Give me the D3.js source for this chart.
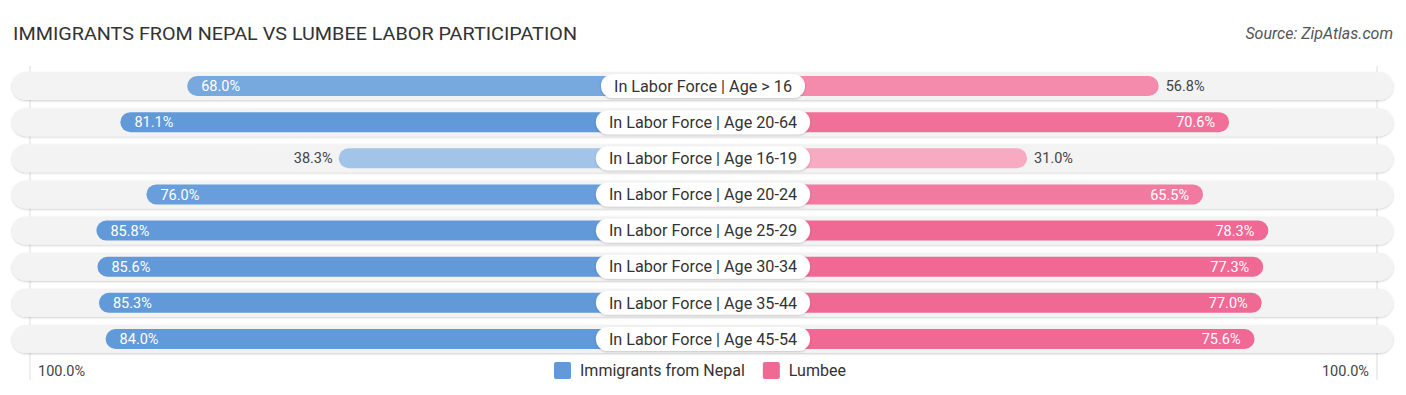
<!DOCTYPE html>
<html>
<head>
<meta charset="utf-8">
<script src="https://cdn.jsdelivr.net/npm/d3@7"></script>
<style>
  body { margin: 0; background: #fff; }
  svg { font-family: Roboto, "Open Sans", sans-serif; }
</style>
</head>
<body>
<div id="chart"></div>
<script>
// data
var categories = [
  "In Labor Force | Age > 16",
  "In Labor Force | Age 20-64",
  "In Labor Force | Age 16-19",
  "In Labor Force | Age 20-24",
  "In Labor Force | Age 25-29",
  "In Labor Force | Age 30-34",
  "In Labor Force | Age 35-44",
  "In Labor Force | Age 45-54"];
var nepal = [68.0, 81.1, 38.3, 76.0, 85.8, 85.6, 85.3, 84.0];
var lumbee = [56.8, 70.6, 31.0, 65.5, 78.3, 77.3, 77.0, 75.6];
var seriesNames = ["Immigrants from Nepal", "Lumbee"];
var axisLabel = "100.0%";

var W = 1406, H = 395;
var cx = 703;

var svg = d3.select("#chart").append("svg")
  .attr("width", W).attr("height", H);

var defs = svg.append("defs");
var f = defs.append("filter").attr("id", "shadow")
  .attr("x", "-5%").attr("y", "-30%").attr("width", "110%").attr("height", "160%");
f.append("feDropShadow").attr("dx", 0).attr("dy", 1).attr("stdDeviation", 1.2)
  .attr("flood-color", "#000").attr("flood-opacity", 0.2);

// scales
var y = d3.scalePoint().domain(categories).range([86, 339]);
var xLeft = d3.scaleLinear().domain([0, 100]).range([534, 24]);
var xRight = d3.scaleLinear().domain([0, 100]).range([869, 1379]);

var blue = d3.scaleLinear().domain([30, 60, 80]).range(["#aecbec", "#85b2e2", "#6199d9"]).clamp(true);
var pink = d3.scaleLinear().domain([30, 55, 75]).range(["#f8abc3", "#f48eae", "#f06894"]).clamp(true);

// title
svg.append("text").attr("x", 13).attr("y", 40)
  .attr("font-size", 19).attr("fill", "#333")
  .attr("textLength", 564).attr("lengthAdjust", "spacingAndGlyphs")
  .text("IMMIGRANTS FROM NEPAL VS LUMBEE LABOR PARTICIPATION");
svg.append("text").attr("x", 1393).attr("y", 39)
  .attr("text-anchor", "end").attr("font-size", 16).attr("font-style", "italic").attr("fill", "#555")
  .text("Source: ZipAtlas.com");

// guide lines at 100%
svg.selectAll("line.guide").data([xLeft(100) + 6, xRight(100) - 2]).enter().append("line")
  .attr("x1", function(d) { return d; }).attr("x2", function(d) { return d; })
  .attr("y1", 66).attr("y2", 380)
  .attr("stroke", "#ddd").attr("stroke-width", 1);

var rows = svg.selectAll("g.row").data(categories).enter().append("g")
  .attr("transform", function(d) { return "translate(0," + y(d) + ")"; });

// track
rows.append("rect")
  .attr("x", 12).attr("y", -14).attr("width", 1381).attr("height", 28).attr("rx", 14)
  .attr("fill", "#f3f3f3").attr("filter", "url(#shadow)");

// nepal bars
rows.append("rect")
  .attr("x", function(d, i) { return xLeft(nepal[i]); })
  .attr("y", -10).attr("height", 20).attr("rx", 10)
  .attr("width", function(d, i) { return cx - xLeft(nepal[i]); })
  .attr("fill", function(d, i) { return blue(nepal[i]); });

// lumbee bars
rows.append("rect")
  .attr("x", cx - 10).attr("y", -10).attr("height", 20).attr("rx", 10)
  .attr("width", function(d, i) { return xRight(lumbee[i]) - cx + 10; })
  .attr("fill", function(d, i) { return pink(lumbee[i]); });

// value labels
rows.append("text")
  .attr("x", function(d, i) { return nepal[i] > 60 ? xLeft(nepal[i]) + 14 : xLeft(nepal[i]) - 6; })
  .attr("text-anchor", function(d, i) { return nepal[i] > 60 ? "start" : "end"; })
  .attr("dy", "0.35em").attr("font-size", 14.5)
  .attr("fill", function(d, i) { return nepal[i] > 60 ? "#fff" : "#444"; })
  .text(function(d, i) { return nepal[i].toFixed(1) + "%"; });

rows.append("text")
  .attr("x", function(d, i) { return lumbee[i] > 60 ? xRight(lumbee[i]) - 14 : xRight(lumbee[i]) + 7; })
  .attr("text-anchor", function(d, i) { return lumbee[i] > 60 ? "end" : "start"; })
  .attr("dy", "0.35em").attr("font-size", 14.5)
  .attr("fill", function(d, i) { return lumbee[i] > 60 ? "#fff" : "#444"; })
  .text(function(d, i) { return lumbee[i].toFixed(1) + "%"; });

// category pills
rows.each(function(d) {
  var g = d3.select(this);
  var pill = g.append("rect").attr("y", -12).attr("height", 24).attr("rx", 12)
    .attr("fill", "#fff").attr("filter", "url(#shadow)");
  var t = g.append("text").attr("x", cx).attr("dy", "0.35em")
    .attr("text-anchor", "middle").attr("font-size", 16.2).attr("fill", "#333").text(d);
  var w = t.node().getComputedTextLength() + 26;
  pill.attr("x", cx - w / 2).attr("width", w);
});

// axis end labels
svg.append("text").attr("x", 38).attr("y", 376).attr("font-size", 14.5).attr("fill", "#444").text(axisLabel);
svg.append("text").attr("x", 1369).attr("y", 376).attr("text-anchor", "end").attr("font-size", 14.5).attr("fill", "#444").text(axisLabel);

// legend
var legend = svg.append("g");
var lx = 554;
seriesNames.forEach(function(name, i) {
  var g = legend.append("g").attr("transform", "translate(" + lx + ",362)");
  g.append("rect").attr("width", 17).attr("height", 17).attr("rx", 2)
    .attr("fill", i === 0 ? "#6199d9" : "#f06894");
  var t = g.append("text").attr("x", 26).attr("y", 8.5).attr("dy", "0.35em")
    .attr("font-size", 16).attr("fill", "#333").text(name);
  lx += 26 + t.node().getComputedTextLength() + 18;
});
</script>
</body>
</html>
